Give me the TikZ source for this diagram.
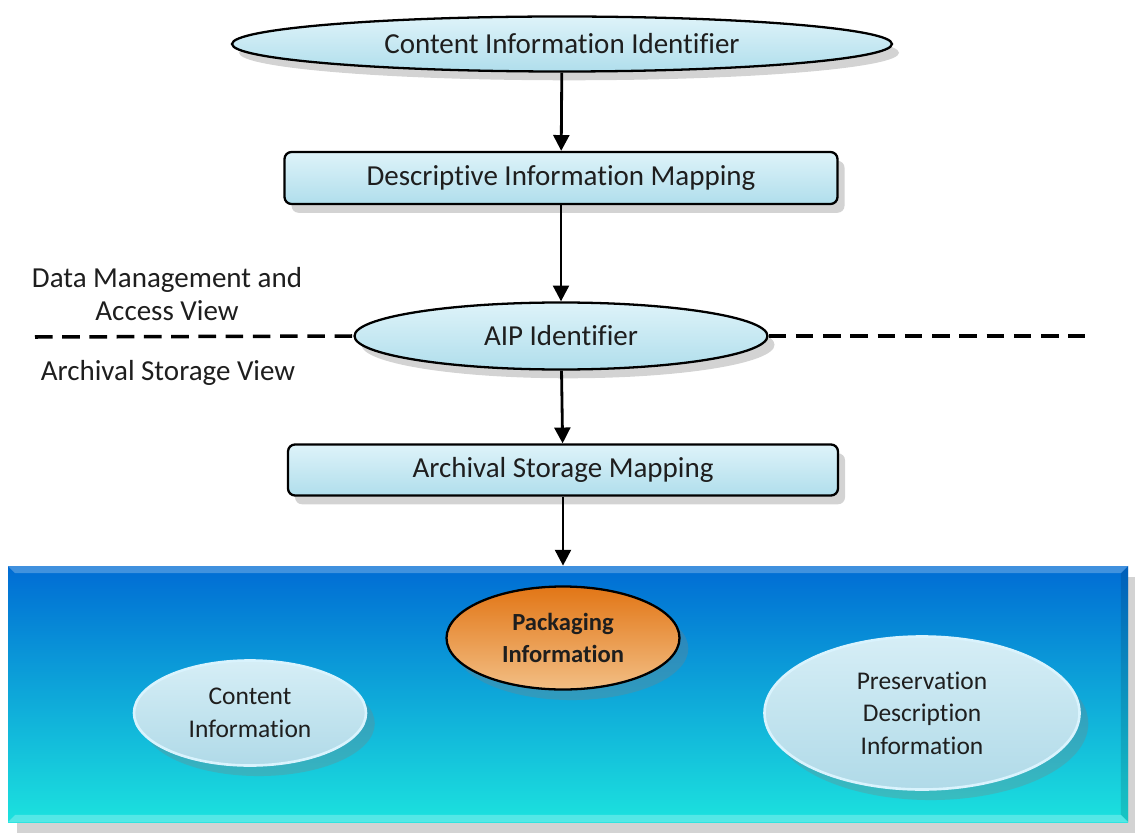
\documentclass[tikz,border=0pt]{standalone}
\usepackage{fontspec}
\setmainfont{Carlito}[Ligatures=NoCommon]
\usetikzlibrary{positioning, arrows.meta, shapes.geometric, shadows, calc}
\definecolor{glasstop}{RGB}{222,243,249}
\definecolor{glassbot}{RGB}{176,222,236}
\definecolor{storetop}{RGB}{0,108,212}
\definecolor{storebot}{RGB}{28,226,222}
\definecolor{pkgtop}{RGB}{226,118,22}
\definecolor{pkgbot}{RGB}{242,190,132}
\definecolor{bubbletop}{RGB}{214,238,246}
\definecolor{bubblebot}{RGB}{176,218,232}
\definecolor{inktext}{RGB}{30,30,30}
\tikzset{
    idellipse/.style={ellipse, draw=black, line width=1.3pt, top color=glasstop, bottom color=glassbot, inner sep=0pt, text=inktext, font=\fontsize{16.5}{19}\selectfont, drop shadow={opacity=0.35, shadow xshift=4pt, shadow yshift=-5pt}},
    mapbox/.style={rectangle, rounded corners=4pt, draw=black, line width=1.3pt, top color=glasstop, bottom color=glassbot, inner sep=0pt, text=inktext, font=\fontsize{16.5}{19}\selectfont, drop shadow={opacity=0.35, shadow xshift=4pt, shadow yshift=-5pt}},
    bubble/.style={ellipse, draw=white!85!cyan, line width=1.5pt, top color=bubbletop, bottom color=bubblebot, inner sep=0pt, align=center, text=inktext, font=\fontsize{14.5}{18.5}\selectfont, drop shadow={opacity=0.3, shadow xshift=5pt, shadow yshift=-6pt}},
    pkgbubble/.style={ellipse, draw=black, line width=1.3pt, top color=pkgtop, bottom color=pkgbot, inner sep=0pt, align=center, text=inktext, font=\fontsize{14}{18.5}\selectfont\bfseries, drop shadow={opacity=0.3, shadow xshift=5pt, shadow yshift=-6pt}},
    flow/.style={-{Triangle[length=9pt, width=9pt]}, line width=1.6pt, black},
    viewline/.style={line width=2pt, dash pattern=on 10pt off 5.5pt},
    viewlbl/.style={font=\fontsize{16.5}{19}\selectfont, align=center, text=inktext}
}
\begin{document}
\begin{tikzpicture}
    \useasboundingbox (0,0) rectangle (22.7,-16.78);

    % === Mapping chain ===
    \node[idellipse, minimum width=13.2cm, minimum height=1.1cm] (cii) at (11.24,-0.88) {Content Information Identifier};
    \node[mapbox, minimum width=11.06cm, minimum height=1.04cm] (dim) at (11.22,-3.56) {Descriptive Information Mapping};
    \node[idellipse, minimum width=8.26cm, minimum height=1.34cm] (aip) at (11.22,-6.72) {AIP Identifier};
    \node[mapbox, minimum width=11.0cm, minimum height=1.02cm] (asm) at (11.26,-9.40) {Archival Storage Mapping};

    % === View boundary ===
    \coordinate (vleft) at (0.7,-6.74);
    \coordinate (vright) at (21.7,-6.72);
    \draw[viewline] (vleft) -- (aip.west);
    \draw[viewline] (aip.east) -- (vright);
    \node[viewlbl] (dmav) at (3.34,-5.88) {Data Management and\\Access View};
    \node[viewlbl] (asv) at (3.36,-7.46) {Archival Storage View};

    % === Archival store ===
    \node[rectangle, draw=none, top color=storetop, bottom color=storebot, minimum width=22.4cm, minimum height=5.12cm, drop shadow={opacity=0.35, shadow xshift=5pt, shadow yshift=-6pt}] (store) at (11.36,-13.88) {};
    % bevel edges
    \fill[white, opacity=0.25] (store.north west) -- (store.north east) -- ([xshift=-0.15cm, yshift=-0.15cm]store.north east) -- ([xshift=0.15cm, yshift=-0.15cm]store.north west) -- cycle;
    \fill[black, opacity=0.12] (store.north east) -- (store.south east) -- ([xshift=-0.15cm, yshift=0.15cm]store.south east) -- ([xshift=-0.15cm, yshift=-0.15cm]store.north east) -- cycle;
    \fill[white, opacity=0.25] (store.south west) -- (store.south east) -- ([xshift=-0.15cm, yshift=0.15cm]store.south east) -- ([xshift=0.15cm, yshift=0.15cm]store.south west) -- cycle;
    \node[pkgbubble, minimum width=4.66cm, minimum height=2.06cm] (pkg) at (11.26,-12.76) {Packaging\\Information};
    \node[bubble, minimum width=4.64cm, minimum height=2.1cm] (ci) at (5.0,-14.26) {Content\\Information};
    \node[bubble, minimum width=6.3cm, minimum height=3.06cm] (pdi) at (18.44,-14.26) {Preservation\\Description\\Information};

    % === Arrows ===
    \draw[flow] (cii) -- (dim);
    \draw[flow] (dim) -- (aip);
    \draw[flow] (aip) -- (asm);
    \draw[flow] (asm.south) -- (asm.south |- store.north);
\end{tikzpicture}
\end{document}
